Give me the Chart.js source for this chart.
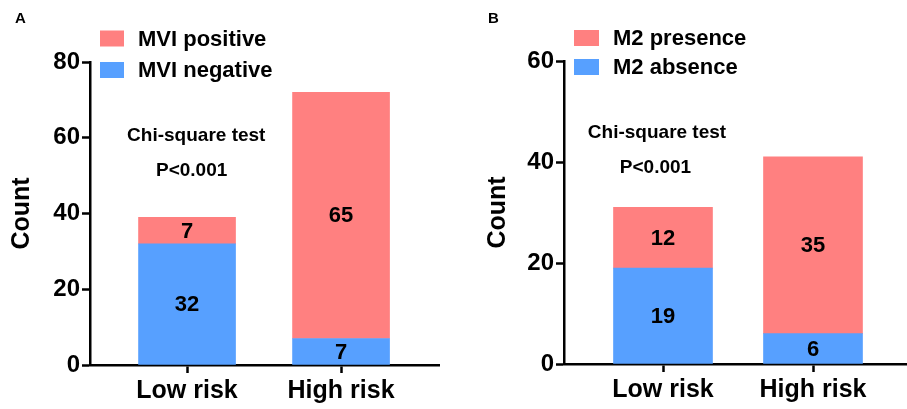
<!DOCTYPE html>
<html>
<head>
<meta charset="utf-8">
<script src="https://cdn.jsdelivr.net/npm/chart.js@4.4.0/dist/chart.umd.min.js"></script>
<style>
  html, body { margin: 0; padding: 0; background: #fff; }
  #wrap { position: relative; width: 907px; height: 409px; overflow: hidden; }
  .panel { position: absolute; top: 0; }
</style>
</head>
<body>
<div id="wrap">
  <canvas id="chart-a" class="panel" width="450" height="409" style="left:0"></canvas>
  <canvas id="chart-b" class="panel" width="437" height="409" style="left:470px"></canvas>
</div>
<script>
'use strict';

// ── Data ──────────────────────────────────────────────────────
const categories  = ['Low risk', 'High risk'];
const mviNegative = [32, 7];
const mviPositive = [7, 65];
const m2Absence   = [19, 6];
const m2Presence  = [12, 35];
const yTicksA     = [0, 20, 40, 60, 80];
const yTicksB     = [0, 20, 40, 60];
const noteLines   = ['Chi-square test', 'P<0.001'];

// ── Style ─────────────────────────────────────────────────────
const FONT = "'Liberation Sans', Arial, sans-serif";
const PINK = '#ff8080';
const BLUE = '#57a0ff';
Chart.defaults.font.family = FONT;

const toPoints = vals => vals.map((v, i) => ({ x: i + 1, y: v }));

// ── Plugins ───────────────────────────────────────────────────
const barLabels = {
  id: 'barLabels',
  afterDatasetsDraw(chart) {
    const ctx = chart.ctx;
    ctx.save();
    ctx.font = `bold 22px ${FONT}`;
    ctx.fillStyle = '#000';
    ctx.textAlign = 'center';
    ctx.textBaseline = 'middle';
    chart.data.datasets.forEach((ds, i) => {
      chart.getDatasetMeta(i).data.forEach((bar, j) => {
        ctx.fillText(String(ds.data[j].y), bar.x, (bar.y + bar.base) / 2 + 1);
      });
    });
    ctx.restore();
  }
};

const boxLegend = {
  id: 'boxLegend',
  afterDraw(chart, args, opts) {
    const ctx = chart.ctx;
    const items = chart.data.datasets.slice().reverse();
    ctx.save();
    ctx.font = `bold ${opts.fontSize}px ${FONT}`;
    ctx.textBaseline = 'middle';
    items.forEach((ds, k) => {
      const cy = opts.top + k * opts.gap;
      ctx.fillStyle = ds.backgroundColor;
      ctx.fillRect(opts.left, cy - opts.boxH / 2, opts.boxW, opts.boxH);
      ctx.fillStyle = '#000';
      ctx.fillText(ds.label, opts.textLeft, cy + 1);
    });
    ctx.restore();
  }
};

const statNote = {
  id: 'statNote',
  afterDraw(chart, args, opts) {
    const { ctx, scales: { x, y } } = chart;
    ctx.save();
    ctx.font = `bold ${opts.fontSize}px ${FONT}`;
    ctx.fillStyle = '#000';
    ctx.textAlign = 'center';
    ctx.textBaseline = 'middle';
    noteLines.forEach((t, i) => {
      const p = opts.at[i];
      ctx.fillText(t, x.getPixelForValue(p[0]), y.getPixelForValue(p[1]));
    });
    ctx.restore();
  }
};

const panelTag = {
  id: 'panelTag',
  afterDraw(chart, args, opts) {
    const ctx = chart.ctx;
    ctx.save();
    ctx.font = `bold 15px ${FONT}`;
    ctx.fillStyle = '#000';
    ctx.fillText(opts.text, opts.x, opts.y);
    ctx.restore();
  }
};

// ── Chart builder ─────────────────────────────────────────────
function makeChart(id, cfg) {
  const axisBorder = { display: true, color: '#000', width: 2.5 };
  const gridOpts = { offset: false, drawOnChartArea: false, drawTicks: true, tickLength: 8, tickWidth: 2.5, tickColor: '#000', color: '#000' };
  return new Chart(document.getElementById(id), {
    type: 'bar',
    data: {
      datasets: [
        { label: cfg.lowLabel,  data: toPoints(cfg.low),  backgroundColor: BLUE, stack: 's', barThickness: cfg.barW },
        { label: cfg.highLabel, data: toPoints(cfg.high), backgroundColor: PINK, stack: 's', barThickness: cfg.barW }
      ]
    },
    options: {
      responsive: false,
      animation: false,
      layout: { padding: { top: cfg.top, right: cfg.right, left: 0, bottom: 0 } },
      plugins: {
        legend: { display: false },
        tooltip: { enabled: false },
        boxLegend: cfg.legend,
        statNote: cfg.note,
        panelTag: cfg.tag
      },
      scales: {
        x: {
          type: 'linear', stacked: true, offset: false, min: cfg.xMin, max: cfg.xMax,
          afterBuildTicks: s => { s.ticks = categories.map((c, i) => ({ value: i + 1 })); },
          afterFit: s => { s.height = cfg.xH; },
          ticks: { callback: v => categories[v - 1], color: '#000', font: { size: 25, weight: 'bold' }, padding: 3, autoSkip: false, maxRotation: 0 },
          grid: gridOpts,
          border: axisBorder
        },
        y: {
          stacked: true, min: 0, max: cfg.yMax,
          afterBuildTicks: s => { s.ticks = cfg.yTicks.map(v => ({ value: v })); },
          afterFit: s => { s.width = cfg.yW; },
          ticks: { color: '#000', font: { size: 24, weight: 'bold' }, padding: 2 },
          grid: gridOpts,
          border: axisBorder,
          title: { display: true, text: 'Count', color: '#000', font: { size: 25, weight: 'bold' }, padding: { top: cfg.titlePad, bottom: 0 } }
        }
      }
    },
    plugins: [barLabels, boxLegend, statNote, panelTag]
  });
}

// Panel A
makeChart('chart-a', {
  lowLabel: 'MVI negative', highLabel: 'MVI positive',
  low: mviNegative, high: mviPositive,
  barW: 97, top: 62, right: 11, xH: 44, yW: 90, titlePad: 7,
  xMin: 0.37, xMax: 2.636, yMax: 80, yTicks: yTicksA,
  legend: { left: 100, top: 38.5, gap: 31.5, boxW: 24, boxH: 16, textLeft: 138, fontSize: 22 },
  note: { fontSize: 19, at: [[1.06, 60.5], [1.03, 51.2]] },
  tag: { text: 'A', x: 15, y: 23 }
});

// Panel B
makeChart('chart-b', {
  lowLabel: 'M2 absence', highLabel: 'M2 presence',
  low: m2Absence, high: m2Presence,
  barW: 99, top: 61, right: 1, xH: 45, yW: 94, titlePad: 13,
  xMin: 0.34, xMax: 2.62, yMax: 60, yTicks: yTicksB,
  legend: { left: 104, top: 38, gap: 29, boxW: 25, boxH: 16, textLeft: 143, fontSize: 22 },
  note: { fontSize: 19, at: [[0.96, 45.7], [0.95, 38.8]] },
  tag: { text: 'B', x: 18, y: 23 }
});
</script>
</body>
</html>
